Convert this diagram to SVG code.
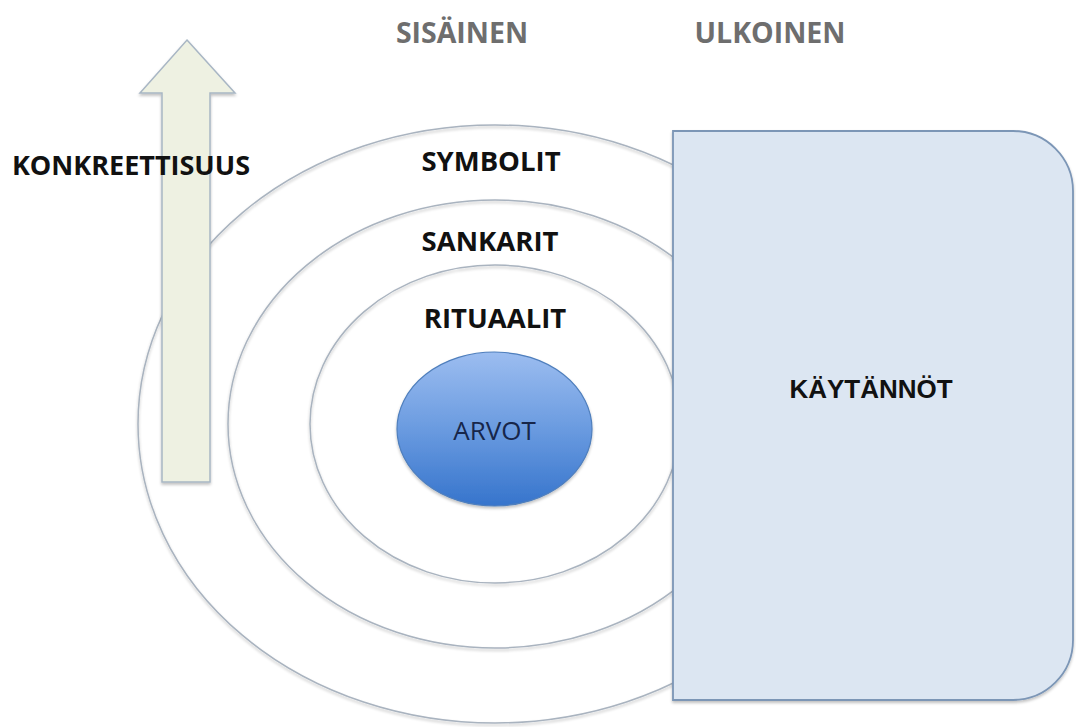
<svg xmlns="http://www.w3.org/2000/svg" width="1076" height="727" viewBox="0 0 1076 727">
  <defs>
    <linearGradient id="arvotGrad" x1="0" y1="0" x2="0" y2="1">
      <stop offset="0" stop-color="#9cbdf0"/>
      <stop offset="0.5" stop-color="#6a9be0"/>
      <stop offset="1" stop-color="#3674cc"/>
    </linearGradient>
    <filter id="soft" x="-10%" y="-10%" width="120%" height="120%">
      <feGaussianBlur in="SourceAlpha" stdDeviation="1.5"/>
      <feOffset dx="0" dy="2" result="b"/>
      <feComponentTransfer><feFuncA type="linear" slope="0.25"/></feComponentTransfer>
      <feMerge><feMergeNode/><feMergeNode in="SourceGraphic"/></feMerge>
    </filter>
    <style>
      .ring { fill: none; stroke: #a9b3bf; stroke-width: 1.5; }
      .head { font-family: "Open Sans", "Liberation Sans", sans-serif; font-weight: bold; fill: #6e6e6e; font-size: 28.5px; text-anchor: middle; }
      .lbl { font-family: "Open Sans", "Liberation Sans", sans-serif; font-weight: bold; fill: #111; text-anchor: middle; }
    </style>
  </defs>
  <rect width="1076" height="727" fill="#ffffff"/>

  <g id="headers">
    <text class="head" x="462" y="43">SISÄINEN</text>
    <text class="head" x="770" y="43">ULKOINEN</text>
  </g>

  <g id="rings" filter="url(#soft)">
    <ellipse id="ring-symbolit" class="ring" cx="495" cy="424" rx="357" ry="299"/>
    <ellipse id="ring-sankarit" class="ring" cx="495" cy="424" rx="267" ry="224"/>
    <ellipse id="ring-rituaalit" class="ring" cx="495" cy="424" rx="185" ry="159"/>
  </g>

  <g id="arrow">
    <polygon points="187,40 235,93 210,93 210,482 162,482 162,93 140,93" fill="#eef1e2" stroke="#a8b6c4" stroke-width="1.5" filter="url(#soft)"/>
  </g>

  <g id="konkreettisuus">
    <text class="lbl" x="131" y="175" font-size="27">KONKREETTISUUS</text>
  </g>

  <g id="symbolit"><text class="lbl" x="491" y="171" font-size="27.5">SYMBOLIT</text></g>
  <g id="sankarit"><text class="lbl" x="490" y="251" font-size="27.5">SANKARIT</text></g>
  <g id="rituaalit"><text class="lbl" x="495" y="328" font-size="27.5">RITUAALIT</text></g>

  <g id="arvot">
    <ellipse cx="494.5" cy="429" rx="97.5" ry="77" fill="url(#arvotGrad)" stroke="#4f7fbd" stroke-width="1.2" filter="url(#soft)"/>
    <text x="494.5" y="440" font-family="'Open Sans', 'Liberation Sans', sans-serif" font-size="26" fill="#17264a" text-anchor="middle">ARVOT</text>
  </g>

  <g id="kaytannot">
    <path d="M673,131 H1013 A60,60 0 0 1 1073,191 V640 A60,60 0 0 1 1013,700 H673 Z" fill="#dce6f2" stroke="#7c96b6" stroke-width="1.8" filter="url(#soft)"/>
    <text x="871" y="398" font-family="'Liberation Sans', Arial, sans-serif" font-weight="bold" font-size="26" fill="#111" text-anchor="middle">KÄYTÄNNÖT</text>
  </g>
</svg>
